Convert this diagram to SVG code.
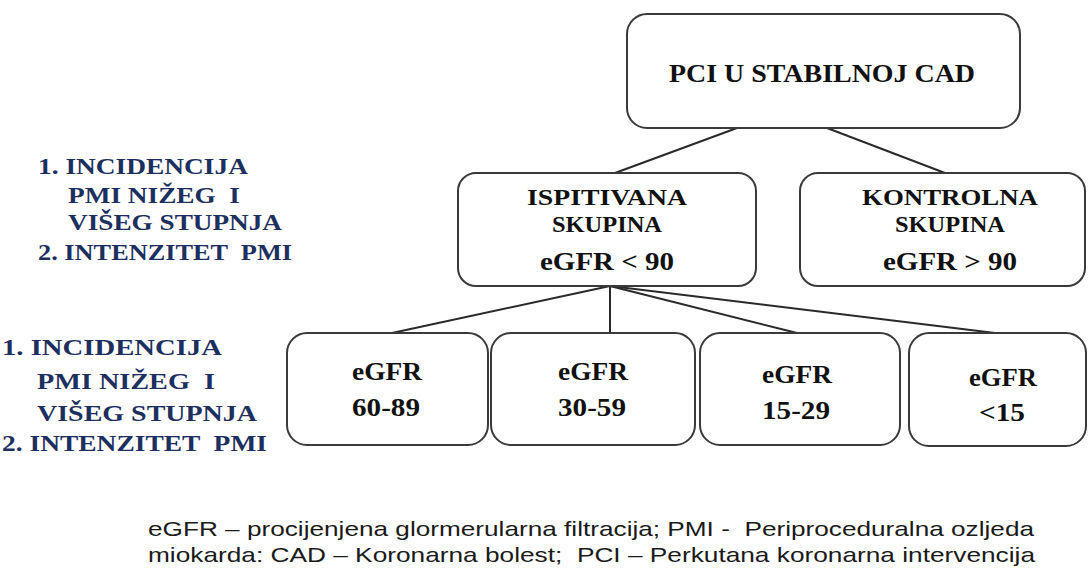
<svg xmlns="http://www.w3.org/2000/svg" width="1088" height="576" viewBox="0 0 1088 576">
<style>
.box{fill:#fff;stroke:#3a3a3a;stroke-width:2}
.conn line{stroke:#2a2a2a;stroke-width:2}
.bt{font-family:"Liberation Serif","Times New Roman",serif;font-weight:bold;font-size:26px;fill:#111;text-anchor:middle}
.bs{font-size:23px}
.lt{font-family:"Liberation Serif","Times New Roman",serif;font-weight:bold;font-size:24px;fill:#1c2f5e;white-space:pre}
.ft{font-family:"Liberation Sans",Arial,sans-serif;font-size:21px;fill:#1a1a1a;white-space:pre}
</style>
<rect width="1088" height="576" fill="#fff"/>
<g class="conn" id="connectors">
<line x1="737" y1="128" x2="615" y2="173"/>
<line x1="827" y1="128" x2="945" y2="173"/>
<line x1="610" y1="286" x2="392" y2="333"/>
<line x1="610" y1="286" x2="610" y2="333"/>
<line x1="610" y1="286" x2="797" y2="333"/>
<line x1="610" y1="286" x2="995" y2="333"/>
</g>
<g id="n-top">
<rect class="box" x="627" y="14" width="393" height="114" rx="20"/>
<text class="bt" x="822" y="82" textLength="306" lengthAdjust="spacingAndGlyphs">PCI U STABILNOJ CAD</text>
</g>
<g id="n-ispitivana">
<rect class="box" x="458" y="173" width="298" height="113" rx="18"/>
<text class="bt bs" x="607" y="205" textLength="160" lengthAdjust="spacingAndGlyphs">ISPITIVANA</text>
<text class="bt bs" x="607" y="232" textLength="110" lengthAdjust="spacingAndGlyphs">SKUPINA</text>
<text class="bt" x="607" y="270" textLength="134" lengthAdjust="spacingAndGlyphs">eGFR &lt; 90</text>
</g>
<g id="n-kontrolna">
<rect class="box" x="800" y="173" width="285" height="113" rx="18"/>
<text class="bt bs" x="950" y="205" textLength="176" lengthAdjust="spacingAndGlyphs">KONTROLNA</text>
<text class="bt bs" x="950" y="232" textLength="110" lengthAdjust="spacingAndGlyphs">SKUPINA</text>
<text class="bt" x="950" y="270" textLength="134" lengthAdjust="spacingAndGlyphs">eGFR &gt; 90</text>
</g>
<g id="n-60-89">
<rect class="box" x="287" y="333" width="201" height="112" rx="20"/>
<text class="bt" x="387" y="380" textLength="70" lengthAdjust="spacingAndGlyphs">eGFR</text>
<text class="bt" x="386" y="416" textLength="68" lengthAdjust="spacingAndGlyphs">60-89</text>
</g>
<g id="n-30-59">
<rect class="box" x="491" y="333" width="204" height="112" rx="20"/>
<text class="bt" x="593" y="380" textLength="70" lengthAdjust="spacingAndGlyphs">eGFR</text>
<text class="bt" x="592" y="416" textLength="68" lengthAdjust="spacingAndGlyphs">30-59</text>
</g>
<g id="n-15-29">
<rect class="box" x="700" y="333" width="200" height="112" rx="20"/>
<text class="bt" x="797" y="383" textLength="70" lengthAdjust="spacingAndGlyphs">eGFR</text>
<text class="bt" x="796" y="419" textLength="68" lengthAdjust="spacingAndGlyphs">15-29</text>
</g>
<g id="n-lt15">
<rect class="box" x="909" y="333" width="177" height="113" rx="20"/>
<text class="bt" x="1003" y="386" textLength="68" lengthAdjust="spacingAndGlyphs">eGFR</text>
<text class="bt" x="1002" y="421" textLength="46" lengthAdjust="spacingAndGlyphs">&lt;15</text>
</g>
<g id="outcomes-1">
<text class="lt" x="38" y="174" textLength="210" lengthAdjust="spacingAndGlyphs">1. INCIDENCIJA</text>
<text class="lt" x="68" y="203" textLength="172" lengthAdjust="spacingAndGlyphs">PMI NIŽEG  I</text>
<text class="lt" x="68" y="230" textLength="214" lengthAdjust="spacingAndGlyphs">VIŠEG STUPNJA</text>
<text class="lt" x="38" y="260" textLength="254" lengthAdjust="spacingAndGlyphs">2. INTENZITET  PMI</text>
</g>
<g id="outcomes-2">
<text class="lt" x="2" y="355" textLength="220" lengthAdjust="spacingAndGlyphs">1. INCIDENCIJA</text>
<text class="lt" x="37" y="389" textLength="178" lengthAdjust="spacingAndGlyphs">PMI NIŽEG  I</text>
<text class="lt" x="37" y="421" textLength="220" lengthAdjust="spacingAndGlyphs">VIŠEG STUPNJA</text>
<text class="lt" x="2" y="451" textLength="265" lengthAdjust="spacingAndGlyphs">2. INTENZITET  PMI</text>
</g>
<g id="legend">
<text class="ft" x="148" y="536" textLength="886" lengthAdjust="spacingAndGlyphs">eGFR – procijenjena glormerularna filtracija; PMI -  Periproceduralna ozljeda</text>
<text class="ft" x="148" y="562" textLength="887" lengthAdjust="spacingAndGlyphs">miokarda: CAD – Koronarna bolest;  PCI – Perkutana koronarna intervencija</text>
</g>
</svg>
